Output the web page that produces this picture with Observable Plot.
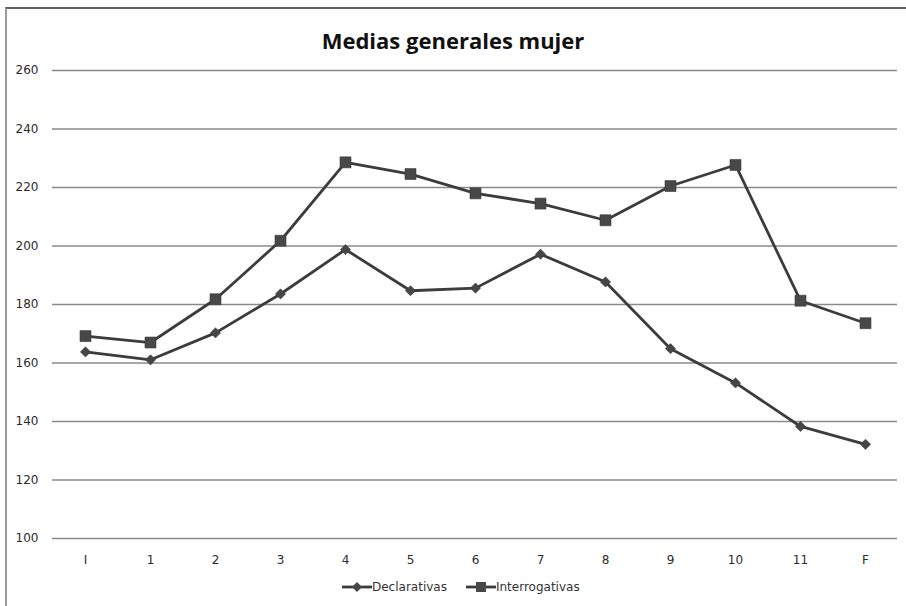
<!DOCTYPE html>
<html>
<head>
<meta charset="utf-8">
<script src="https://cdn.jsdelivr.net/npm/d3@7"></script>
<script src="https://cdn.jsdelivr.net/npm/@observablehq/plot@0.6"></script>
<style>
  html, body { margin: 0; padding: 0; background: #fff; }
  #wrap { position: relative; width: 906px; height: 606px; overflow: hidden; background: #fff; }
  #frame { position: absolute; left: 5px; top: 7px; right: -5px; bottom: -5px;
           border-top: 2px solid #5e5e5e; border-left: 2px solid #9a9a9a; }
  #title { position: absolute; top: 27px; left: 0; width: 906px; text-align: center;
           font-family: "Open Sans", sans-serif; font-weight: 700; font-size: 22px; line-height: 26px; color: #111; }
  #chart { position: absolute; top: 60px; left: 0; }
  #legend { position: absolute; top: 580px; left: 342px; display: flex; align-items: center;
            font-family: "DejaVu Sans", sans-serif; font-size: 12px; color: #333; line-height: 14px; }
  .item { display: flex; align-items: center; margin-right: 19px; }
  .item svg { display: block; }
</style>
</head>
<body>
<div id="wrap">
  <div id="frame"></div>
  <div id="title">Medias generales mujer</div>
  <div id="chart"></div>
  <div id="legend"></div>
</div>
<script>
const categories = ["I", "1", "2", "3", "4", "5", "6", "7", "8", "9", "10", "11", "F"];
const declarativas = [163.8, 161.1, 170.3, 183.6, 198.8, 184.7, 185.6, 197.2, 187.7, 164.9, 153.2, 138.3, 132.2];
const interrogativas = [169.2, 167.0, 181.8, 201.8, 228.6, 224.6, 218.0, 214.5, 208.8, 220.5, 227.7, 181.3, 173.6];
const yTicks = [100, 120, 140, 160, 180, 200, 220, 240, 260];
const seriesNames = ["Declarativas", "Interrogativas"];

const rowsD = categories.map((c, i) => ({cat: c, value: declarativas[i]}));
const rowsI = categories.map((c, i) => ({cat: c, value: interrogativas[i]}));

const lineColor = "#3c3c3c";

const chart = Plot.plot({
  width: 906,
  height: 510,
  marginTop: 10,
  marginBottom: 32,
  marginLeft: 52,
  marginRight: 9,
  style: {fontFamily: "DejaVu Sans, sans-serif", fontSize: "12px", color: "#2b2b2b", background: "transparent"},
  x: {type: "point", domain: categories, padding: 0.5, label: null, tickSize: 0, tickPadding: 17},
  y: {domain: [100, 260], ticks: yTicks, label: null, tickSize: 0, tickPadding: 14},
  marks: [
    Plot.ruleY(yTicks, {stroke: "#8a8a8a", strokeWidth: 1.4}),
    Plot.line(rowsD, {x: "cat", y: "value", stroke: lineColor, strokeWidth: 2.8}),
    Plot.line(rowsI, {x: "cat", y: "value", stroke: lineColor, strokeWidth: 2.8}),
    Plot.dot(rowsD, {x: "cat", y: "value", symbol: "diamond2", r: 4.6, fill: "#464646", stroke: "#3a3a3a", strokeWidth: 0.6}),
    Plot.dot(rowsI, {x: "cat", y: "value", symbol: "square", r: 6.2, fill: "#484848", stroke: "#3a3a3a", strokeWidth: 0.6})
  ]
});
document.getElementById("chart").appendChild(chart);

// Legend
const legend = document.getElementById("legend");
const symbols = ["diamond", "square"];
seriesNames.forEach((name, i) => {
  const item = document.createElement("div");
  item.className = "item";
  const ns = "http://www.w3.org/2000/svg";
  const svg = document.createElementNS(ns, "svg");
  svg.setAttribute("width", 30);
  svg.setAttribute("height", 14);
  const ln = document.createElementNS(ns, "line");
  ln.setAttribute("x1", 0); ln.setAttribute("x2", 30);
  ln.setAttribute("y1", 7); ln.setAttribute("y2", 7);
  ln.setAttribute("stroke", lineColor); ln.setAttribute("stroke-width", 2.8);
  svg.appendChild(ln);
  if (symbols[i] === "diamond") {
    const p = document.createElementNS(ns, "path");
    p.setAttribute("d", "M15,2L20,7L15,12L10,7Z");
    p.setAttribute("fill", "#464646");
    svg.appendChild(p);
  } else {
    const r = document.createElementNS(ns, "rect");
    r.setAttribute("x", 10); r.setAttribute("y", 2);
    r.setAttribute("width", 10); r.setAttribute("height", 10);
    r.setAttribute("fill", "#484848");
    svg.appendChild(r);
  }
  item.appendChild(svg);
  const t = document.createElement("span");
  t.textContent = name;
  item.appendChild(t);
  legend.appendChild(item);
});
</script>
</body>
</html>
